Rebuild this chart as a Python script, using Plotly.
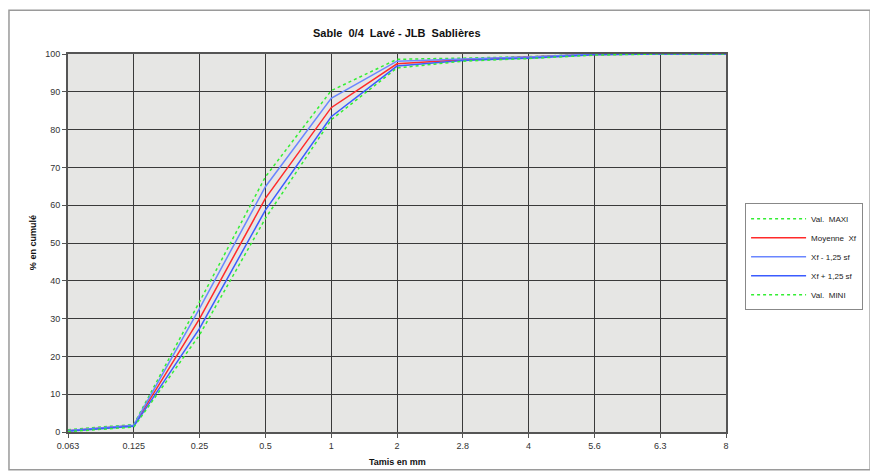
import plotly.graph_objects as go

# Tamis (mm) and cumulative passing (%)
tamis = ['0.063', '0.125', '0.25', '0.5', '1', '2', '2.8', '4', '5.6', '6.3', '8']

val_maxi = [0.6, 2.0, 34.5, 67.5, 90.3, 98.6, 98.9, 99.3, 100, 100, 100]
moyenne = [0.3, 1.7, 30.0, 61.8, 85.8, 97.4, 98.5, 99.1, 99.9, 100, 100]
xf_moins = [0.4, 1.8, 32.7, 64.9, 88.3, 98.1, 98.7, 99.2, 100, 100, 100]
xf_plus = [0.2, 1.5, 27.4, 58.7, 83.4, 96.8, 98.3, 98.9, 99.8, 100, 100]
val_mini = [0.1, 1.3, 25.7, 56.5, 82.6, 96.3, 98.1, 98.8, 99.7, 100, 100]

fig = go.Figure()

fig.add_trace(go.Scatter(x=tamis, y=val_maxi, name='Val.  MAXI', mode='lines',
                         line=dict(color='#33ee33', width=1.5, dash='dot')))
fig.add_trace(go.Scatter(x=tamis, y=moyenne, name='Moyenne  Xf', mode='lines',
                         line=dict(color='#ff2a2a', width=1.5)))
fig.add_trace(go.Scatter(x=tamis, y=xf_moins, name='Xf - 1,25 sf', mode='lines',
                         line=dict(color='#6a86ff', width=1.5)))
fig.add_trace(go.Scatter(x=tamis, y=xf_plus, name='Xf + 1,25 sf', mode='lines',
                         line=dict(color='#3b5cff', width=1.5)))
fig.add_trace(go.Scatter(x=tamis, y=val_mini, name='Val.  MINI', mode='lines',
                         line=dict(color='#33ee33', width=1.5, dash='dot')))

# outer frame of the chart
fig.add_shape(type='rect', xref='paper', yref='paper',
              x0=-0.0897, x1=1.219, y0=-0.1, y1=1.116,
              line=dict(color='#9a9a9a', width=1.5), fillcolor='rgba(0,0,0,0)', layer='below')

fig.add_annotation(text='<b>Sable  0/4  Lavé - JLB  Sablières</b>', xref='paper', yref='paper',
                   x=0.5, y=1.0556, xanchor='center', yanchor='middle', showarrow=False,
                   font=dict(size=11, color='#111'))
fig.add_annotation(text='<b>Tamis en mm</b>', xref='paper', yref='paper',
                   x=0.5, y=-0.079, xanchor='center', yanchor='middle', showarrow=False,
                   font=dict(size=9, color='#111'))
fig.add_annotation(text='<b>% en cumulé</b>', xref='paper', yref='paper',
                   x=-0.053, y=0.5, xanchor='center', yanchor='middle', textangle=-90,
                   showarrow=False, font=dict(size=9, color='#111'))

# the page body adds an 8px offset, margins compensate for it
fig.update_layout(
    width=878, height=474,
    margin=dict(l=60, r=160, t=46, b=50),
    paper_bgcolor='white',
    plot_bgcolor='#e6e6e4',
    font=dict(family='Liberation Sans, Arial, sans-serif', size=9, color='#333'),
    showlegend=True,
    legend=dict(x=1.029, y=0.605, xanchor='left', yanchor='top',
                bgcolor='white', bordercolor='#888', borderwidth=1,
                font=dict(size=8, color='#222'), tracegroupgap=4, itemwidth=55),
)

fig.update_xaxes(type='category', range=[0, 10], showgrid=True, gridcolor='#3a3a3a', gridwidth=1,
                 showline=True, linecolor='#555', linewidth=2, mirror=True,
                 ticks='outside', ticklen=4, tickcolor='#555', tickfont=dict(size=9, color='#333'))
fig.update_yaxes(range=[0, 100], dtick=10, showgrid=True, gridcolor='#3a3a3a', gridwidth=1,
                 showline=True, linecolor='#555', linewidth=2, mirror=True, zeroline=False,
                 ticks='outside', ticklen=4, tickcolor='#555', tickfont=dict(size=9, color='#333'))

fig.write_html('out.html')
